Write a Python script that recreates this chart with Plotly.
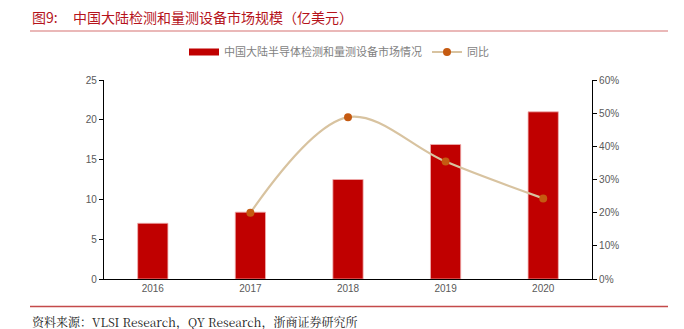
import plotly.graph_objects as go

years = ["2016", "2017", "2018", "2019", "2020"]
market = [7.0, 8.4, 12.5, 16.9, 21.0]
yoy_years = ["2017", "2018", "2019", "2020"]
yoy = [20.0, 48.8, 35.4, 24.3]

bar_name = "中国大陆半导体检测和量测设备市场情况"
line_name = "同比"
title_prefix = "图9:"
title_text = "中国大陆检测和量测设备市场规模（亿美元）"
source_text = "资料来源：VLSI Research，QY Research，浙商证券研究所"

BAR_COLOR = "#C00000"

fig = go.Figure()
fig.add_trace(go.Bar(
    x=years, y=market, name=bar_name, marker_color=BAR_COLOR,
    marker_line_color="#F0B0B0", marker_line_width=0.8, width=0.31,
    showlegend=False,
))
fig.add_trace(go.Scatter(
    x=[None], y=[None], name=bar_name, mode="lines",
    line=dict(color=BAR_COLOR, width=7), showlegend=True,
))
fig.add_trace(go.Scatter(
    x=yoy_years, y=yoy, name=line_name, yaxis="y2", mode="lines+markers",
    line=dict(color="#D8C3A0", width=2.2, shape="spline", smoothing=1.0),
    marker=dict(color="#C55A11", size=8),
))

tick_font = dict(family="Liberation Sans, Arial", size=10, color="#595959")
pw = 684 - 104 - 92
ph = 329 - 80 - 50
def px(xp):
    return (xp - 104) / pw
def py(yp):
    return (329 - 50 - yp) / ph

fig.update_layout(
    width=684, height=329,
    margin=dict(l=104, r=92, t=80, b=50),
    paper_bgcolor="white", plot_bgcolor="white",
    showlegend=True,
    legend=dict(orientation="h", x=px(184), xanchor="left", y=py(52), yanchor="middle",
                font=dict(family="Noto Sans CJK SC", size=11, color="#7F7F7F"),
                traceorder="normal"),
    xaxis=dict(type="category", showline=True, linecolor="black", linewidth=1.2,
               ticks="", tickfont=tick_font, showgrid=False),
    yaxis=dict(range=[0, 25], dtick=5, showline=True, linecolor="black", linewidth=1.2,
               ticks="outside", ticklen=4, tickcolor="black", tickfont=tick_font,
               showgrid=False, zeroline=False),
    yaxis2=dict(range=[0, 60], dtick=10, overlaying="y", side="right", ticksuffix="%",
                showline=True, linecolor="black", linewidth=1.2,
                ticks="outside", ticklen=4, tickcolor="black", tickfont=tick_font,
                showgrid=False, zeroline=False),
    bargap=0.69,
)

title_font = dict(family="Noto Sans CJK SC", size=14, color="#B5131B")
fig.add_annotation(text=title_prefix, xref="paper", yref="paper", x=px(30), xanchor="left",
                   y=py(17), yanchor="middle", showarrow=False, font=title_font)
fig.add_annotation(text=title_text, xref="paper", yref="paper", x=px(71), xanchor="left",
                   y=py(17), yanchor="middle", showarrow=False, font=title_font)
fig.add_annotation(text=source_text, xref="paper", yref="paper", x=px(30), xanchor="left",
                   y=py(321), yanchor="middle", showarrow=False,
                   font=dict(family="Noto Serif CJK SC, Noto Sans CJK SC", size=12, color="#222222"))

fig.add_shape(type="line", xref="paper", yref="paper", x0=px(30), x1=px(668),
              y0=py(31), y1=py(31), line=dict(color="#E3A0A0", width=1.5))
fig.add_shape(type="line", xref="paper", yref="paper", x0=px(30), x1=px(668),
              y0=py(306.5), y1=py(306.5), line=dict(color="#C44A4A", width=1.5))

fig.write_html("out.html")
